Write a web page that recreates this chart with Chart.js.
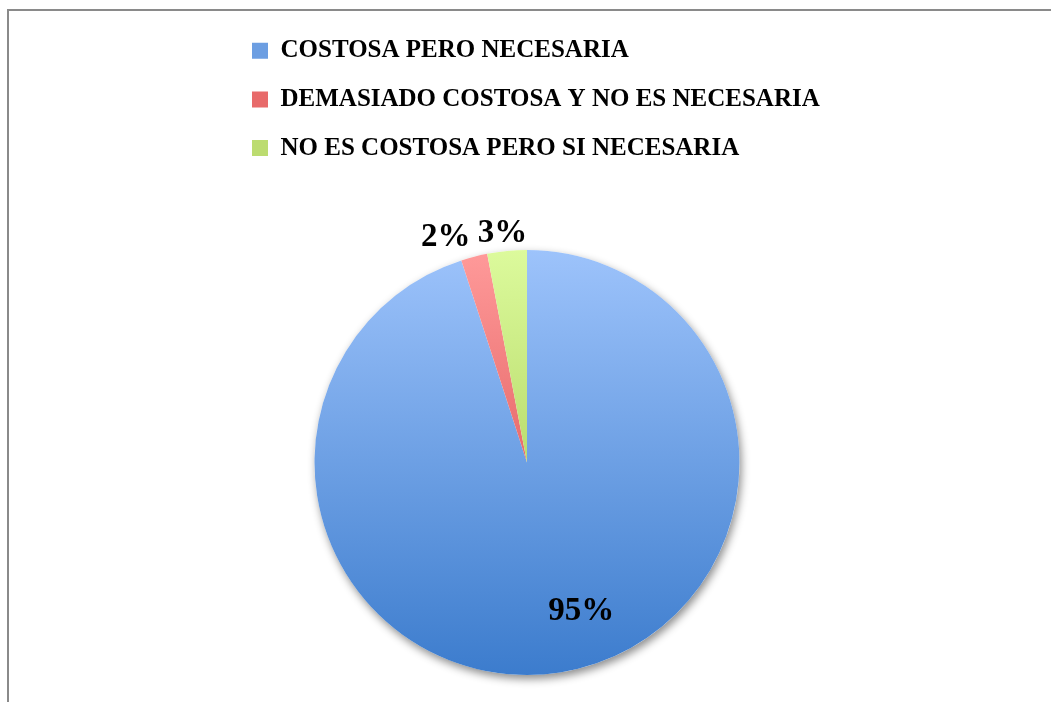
<!DOCTYPE html>
<html>
<head>
<meta charset="utf-8">
<script src="https://cdn.jsdelivr.net/npm/chart.js@4"></script>
<style>
  html, body { margin: 0; padding: 0; background: #fff; overflow: hidden; }
  #frame {
    position: absolute; left: 7px; top: 9px; width: 1200px; height: 900px;
    border-left: 2px solid #8a8a8a; border-top: 2px solid #8a8a8a;
  }
  #myChart { position: absolute; left: 0; top: 0; }
</style>
</head>
<body>
<div id="frame"></div>
<canvas id="myChart" width="1051" height="702"></canvas>
<script>
const labels = [
  "COSTOSA PERO NECESARIA",
  "DEMASIADO COSTOSA Y NO ES NECESARIA",
  "NO ES COSTOSA PERO SI NECESARIA",
];
const percents = [95, 2, 3];

// top and bottom colour of each slice gradient
const topColors = ["#9dc3fb", "#ff9a9a", "#dcfa9c"];
const bottomColors = ["#3c7ccd", "#d03c3c", "#98c040"];
const legendColors = ["#6c9ee2", "#e86a6a", "#bcdc70"];

function sliceFill(context) {
  const i = context.dataIndex;
  const area = context.chart.chartArea;
  if (!area) return topColors[i];
  const g = context.chart.ctx.createLinearGradient(0, area.top, 0, area.bottom);
  g.addColorStop(0, topColors[i]);
  g.addColorStop(1, bottomColors[i]);
  return g;
}

// soft shadow under the pie
const pieShadow = {
  id: "pieShadow",
  beforeDatasetsDraw(chart) {
    const arc = chart.getDatasetMeta(0).data[0];
    if (!arc) return;
    const ctx = chart.ctx;
    ctx.save();
    ctx.shadowColor = "rgba(0,0,0,0.45)";
    ctx.shadowBlur = 9;
    ctx.shadowOffsetX = 2;
    ctx.shadowOffsetY = 4;
    ctx.fillStyle = "#fff";
    ctx.beginPath();
    ctx.arc(arc.x, arc.y, arc.outerRadius, 0, Math.PI * 2);
    ctx.fill();
    ctx.restore();
  },
};

// percentage labels, placed from each arc's mid angle
const pieLabels = {
  id: "pieLabels",
  afterDatasetsDraw(chart, args, opts) {
    const ctx = chart.ctx;
    const meta = chart.getDatasetMeta(0);
    ctx.save();
    ctx.font = "bold 33px 'Liberation Serif', serif";
    ctx.fillStyle = "#000";
    ctx.textAlign = "center";
    ctx.textBaseline = "middle";
    meta.data.forEach((arc, i) => {
      const mid = (arc.startAngle + arc.endAngle) / 2 + (opts.shift[i] * Math.PI) / 180;
      const r = arc.outerRadius * opts.dist[i];
      ctx.fillText(percents[i] + "%", arc.x + Math.cos(mid) * r, arc.y + Math.sin(mid) * r);
    });
    ctx.restore();
  },
};

// extra room between the legend and the pie
const legendGap = {
  id: "legendGap",
  beforeUpdate(chart) {
    const legend = chart.legend;
    if (!legend || legend._gapPatched) return;
    const fit = legend.fit;
    legend.fit = function () {
      fit.call(this);
      this.height = 235.5;
    };
    legend._gapPatched = true;
  },
};

function chartIt() {
  const ctx = document.getElementById("myChart");

  new Chart(ctx, {
    type: "pie",
    data: {
      labels: labels,
      datasets: [
        {
          data: percents,
          backgroundColor: sliceFill,
          borderWidth: 0,
        },
      ],
    },
    plugins: [legendGap, pieShadow, pieLabels],
    options: {
      responsive: false,
      animation: false,
      layout: {
        padding: { left: 228.3, right: 225.3, top: 14.5, bottom: 27 },
      },
      plugins: {
        legend: {
          position: "top",
          align: "start",
          labels: {
            boxWidth: 16,
            boxHeight: 16,
            padding: 23.7,
            color: "#000",
            font: { family: "'Liberation Serif', serif", size: 25, weight: "bold" },
            generateLabels(chart) {
              const items = Chart.overrides.pie.plugins.legend.labels.generateLabels(chart);
              items.forEach((item, i) => {
                item.fillStyle = legendColors[i];
              });
              return items;
            },
          },
        },
        tooltip: { enabled: false },
        pieLabels: {
          dist: [0.745, 1.125, 1.085],
          shift: [-11, -5.5, -0.7],
        },
      },
    },
  });
}

chartIt();
</script>
</body>
</html>
